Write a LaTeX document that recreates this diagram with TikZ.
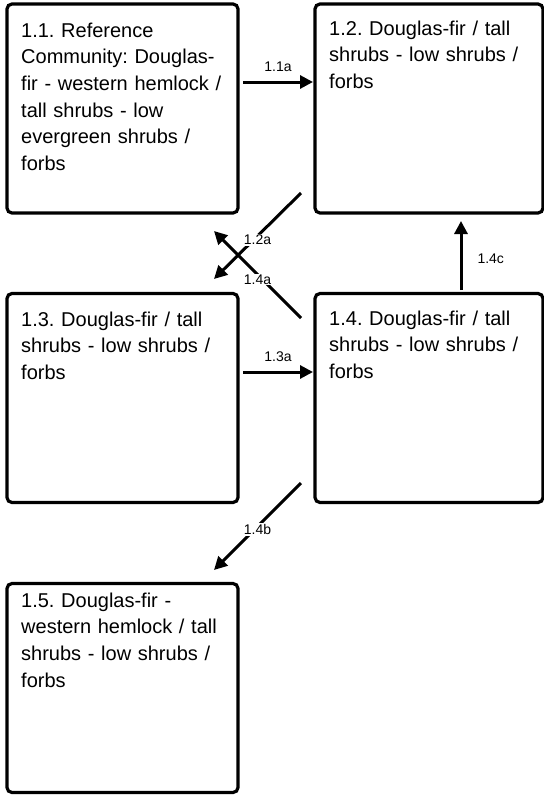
\documentclass[tikz,border=0pt]{standalone}
\usepackage{fontspec}
\setmainfont{Liberation Sans}
\usetikzlibrary{arrows.meta}
\frenchspacing
\begin{document}
\begin{tikzpicture}[x=1pt,y=-1pt,
  statebox/.style={draw=black, line width=3.2pt, rounded corners=5pt, fill=white,
    minimum width=231pt, minimum height=209pt, inner sep=0pt},
  boxtext/.style={anchor=base west, inner sep=0pt, text width=218pt, align=left,
    font=\fontsize{20}{26.7}\selectfont\frenchspacing},
  trans/.style={line width=3pt, -{Triangle[length=13pt,width=13pt]}},
  lbl/.style={font=\fontsize{14}{16}\selectfont, inner sep=1pt},
  lblw/.style={lbl, fill=white}]
\useasboundingbox (0,0) rectangle (544,796);
% boxes
\node[statebox] (b11) at (122.5,108.5) {};
\node[statebox, minimum width=228pt] (b12) at (429,108.5) {};
\node[statebox] (b13) at (122.5,398) {};
\node[statebox, minimum width=228pt] (b14) at (429,398) {};
\node[statebox] (b15) at (122.5,688) {};
% texts
\node[boxtext] (t11) at (21,37) {1.1. Reference\\Community: Douglas-\\fir - western hemlock /\\tall shrubs - low\\evergreen shrubs /\\forbs};
\node[boxtext] (t12) at (329,35) {1.2. Douglas-fir / tall\\shrubs - low shrubs /\\forbs};
\node[boxtext] (t13) at (21,326) {1.3. Douglas-fir / tall\\shrubs - low shrubs /\\forbs};
\node[boxtext] (t14) at (329,325) {1.4. Douglas-fir / tall\\shrubs - low shrubs /\\forbs};
\node[boxtext] (t15) at (21,607) {1.5. Douglas-fir -\\western hemlock / tall\\shrubs - low shrubs /\\forbs};
% connector end points
\coordinate (a11s) at (243,82);   \coordinate (a11e) at (313,82);
\coordinate (a13s) at (243,372);  \coordinate (a13e) at (313,372);
\coordinate (a14cs) at (461,290); \coordinate (a14ce) at (461,221);
\coordinate (a12s) at (301,193);  \coordinate (a12e) at (214,279);
\coordinate (a14as) at (301,318); \coordinate (a14ae) at (214,231);
\coordinate (a14bs) at (301,483); \coordinate (a14be) at (214,570);
% connectors
\draw[trans] (a11s) -- node[lbl, above=8pt] (l11a) {1.1a} (a11e);
\draw[trans] (a13s) -- node[lbl, above=8pt] (l13a) {1.3a} (a13e);
\draw[trans] (a14cs) -- node[lbl, right=14pt, pos=0.45] (l14c) {1.4c} (a14ce);
\draw[trans] (a12s) -- node[lblw, pos=0.5, yshift=-4pt] (l12a) {1.2a} (a12e);
\draw[trans] (a14as) -- node[lblw, pos=0.5, yshift=-5pt] (l14a) {1.4a} (a14ae);
\draw[trans] (a14bs) -- node[lblw, pos=0.5, yshift=-3pt] (l14b) {1.4b} (a14be);
\end{tikzpicture}
\end{document}
